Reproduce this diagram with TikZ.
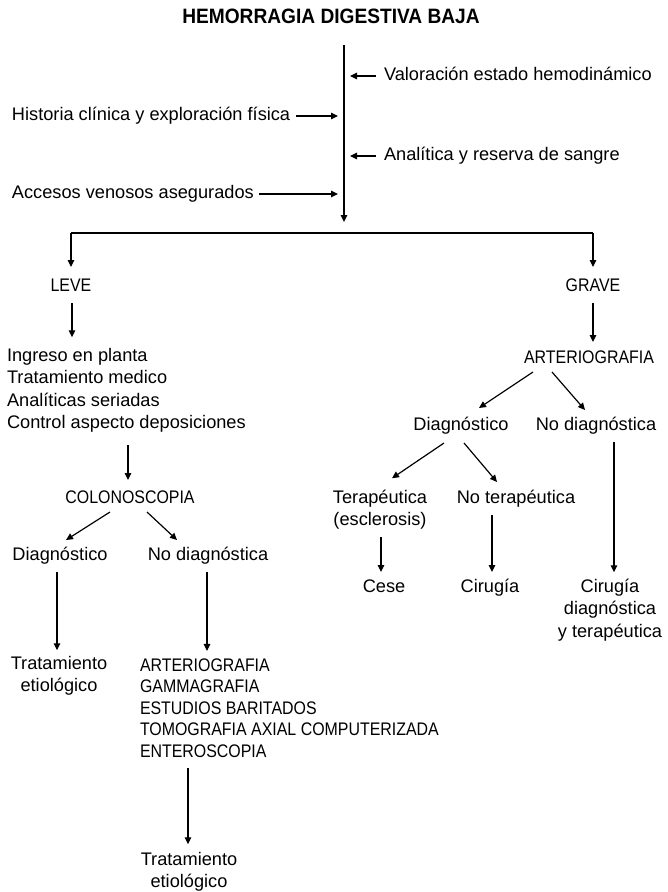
\documentclass[tikz,border=0pt]{standalone}
\usepackage{fontspec}
\setmainfont{Liberation Sans}
\newfontfamily\titlefont{Liberation Sans}[FakeStretch=0.92]
\newfontfamily\capsfont{Liberation Sans}[FakeStretch=0.875]
\usetikzlibrary{arrows.meta,calc}
\begin{document}
\begin{tikzpicture}[x=1pt,y=-1pt,
  every node/.style={inner sep=0pt,outer sep=0pt},
  txt/.style={font=\fontsize{18.2}{22.5}\selectfont,text height=13pt,text depth=4pt},
  captxt/.style={font=\capsfont\fontsize{18.2}{22.5}\selectfont,text height=13pt,text depth=4pt},
  blk/.style={font=\fontsize{18.2}{22.5}\selectfont},
  lst/.style={font=\capsfont\fontsize{18.2}{21.5}\selectfont,align=left},
  arr/.style={-{Triangle[length=7pt,width=6.5pt]},line width=1.2pt},
  ln/.style={line width=1.2pt}]
\useasboundingbox (0,0) rectangle (668,892);

% title
\node[anchor=base,font=\titlefont\bfseries\fontsize{20.8}{24}\selectfont] (title) at (331,23) {HEMORRAGIA DIGESTIVA BAJA};

% main flow line and its side inputs
\coordinate (flowtop) at (344,45);
\coordinate (bar) at (344,233);
\node[txt,anchor=base west] (val) at (384,80.5) {Valoración estado hemodinámico};
\node[txt,anchor=base west] (hist) at (12,120.5) {Historia clínica y exploración física};
\node[txt,anchor=base west] (anal) at (384,160.5) {Analítica y reserva de sangre};
\node[txt,anchor=base west] (acc) at (12,198.5) {Accesos venosos asegurados};

\draw[arr] (flowtop) -- ($(bar)+(0,-11)$);
\draw[arr] ($(val.west)+(-8,0)$) -- ($(val.west -| flowtop)+(6,0)$);
\draw[arr] ($(anal.west)+(-8,0)$) -- ($(anal.west -| flowtop)+(6,0)$);
\draw[arr] ($(hist.east)+(6,0)$) -- ($(hist.east -| flowtop)+(-6,0)$);
\draw[arr] ($(acc.east)+(5,0)$) -- ($(acc.east -| flowtop)+(-6,0)$);

% severity split
\node[captxt,anchor=base] (leve) at (71,291) {LEVE};
\node[captxt,anchor=base] (grave) at (593,291) {GRAVE};
\draw[ln] (bar -| leve) -- (bar -| grave);
\draw[arr] (bar -| leve) -- ($(leve.north)+(0,-11)$);
\draw[arr] (bar -| grave) -- ($(grave.north)+(0,-11)$);

% mild branch
\node[blk,align=left,anchor=north west] (list) at (7,345.25)
  {\strut Ingreso en planta\\Tratamiento medico\\Analíticas seriadas\\Control aspecto deposiciones\strut};
\node[captxt,anchor=base] (colo) at (130,503) {COLONOSCOPIA};
\node[txt,anchor=base] (diagL) at (60,560) {Diagnóstico};
\node[txt,anchor=base] (nodiagL) at (208,560) {No diagnóstica};
\node[blk,align=center,anchor=north] (tratL) at (59,653.25) {\strut Tratamiento\\etiológico\strut};
\node[lst,anchor=north west] (list2) at (140,655.95)
  {\strut ARTERIOGRAFIA\\GAMMAGRAFIA\\ESTUDIOS BARITADOS\\TOMOGRAFIA AXIAL COMPUTERIZADA\\ENTEROSCOPIA\strut};
\node[blk,align=center,anchor=north] (tratB) at (189,849.25) {\strut Tratamiento\\etiológico\strut};

\draw[arr] ($(leve.south)+(1,8)$) -- ($(leve.south |- list.north)+(1,-8)$);
\draw[arr] ($(list.south -| colo)+(-2,10)$) -- ($(colo.north)+(-2,-10)$);
\draw[arr] ($(colo.south)+(-20,5)$) -- ($(diagL.north)+(6,-7)$);
\draw[arr] ($(colo.south)+(17,5)$) -- ($(nodiagL.north)+(-31,-7)$);
\draw[arr] ($(diagL.south)+(-3,8)$) -- ($(diagL.south |- tratL.north)+(-3,-3)$);
\draw[arr] ($(nodiagL.south)+(-1,8)$) -- ($(nodiagL.south |- list2.north)+(-1,-5)$);
\draw[arr] ($(list2.south -| tratB)+(-1,4.5)$) -- ($(tratB.north)+(-1,-5)$);

% severe branch
\node[captxt,anchor=base] (artR) at (589,363) {ARTERIOGRAFIA};
\node[txt,anchor=base] (diagR) at (461,430) {Diagnóstico};
\node[txt,anchor=base] (nodiagR) at (596,430) {No diagnóstica};
\node[blk,align=center,anchor=north] (terap) at (380,487.25) {\strut Terapéutica\\(esclerosis)\strut};
\node[txt,anchor=base] (noterap) at (516,503) {No terapéutica};
\node[txt,anchor=base] (cese) at (384,592) {Cese};
\node[txt,anchor=base] (cirM) at (490,592) {Cirugía};
\node[blk,align=center,anchor=north] (cirR) at (610,576.25) {\strut Cirugía\\diagnóstica\\y terapéutica\strut};

\draw[arr] ($(grave.south)+(0,8)$) -- ($(grave.south |- artR.north)+(0,-8)$);
\draw[arr] ($(artR.south)+(-56,5)$) -- ($(diagR.north)+(18,-9)$);
\draw[arr] ($(artR.south)+(-37,5)$) -- ($(nodiagR.north)+(-11,-7)$);
\draw[arr] ($(diagR.south)+(-17,9)$) -- ($(terap.north)+(12,-9)$);
\draw[arr] ($(diagR.south)+(3,9)$) -- ($(noterap.north)+(-19,-8)$);
\draw[arr] ($(nodiagR.south)+(18,8)$) -- ($(nodiagR.south |- cirR.north)+(18,-4)$);
\draw[arr] ($(terap.south)+(1,5)$) -- ($(terap.south |- cese.north)+(1,-7)$);
\draw[arr] ($(noterap.south)+(-24,8)$) -- ($(noterap.south |- cirM.north)+(-24,-7)$);
\end{tikzpicture}
\end{document}
